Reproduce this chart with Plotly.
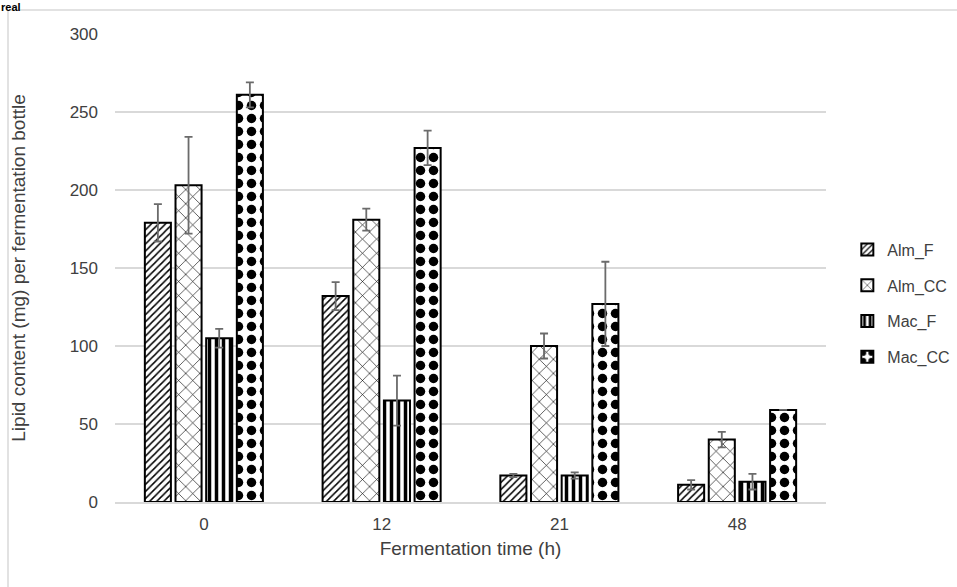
import plotly.graph_objects as go

# Lipid content per fermentation bottle (mg), mean and standard deviation
times = ["0", "12", "21", "48"]
series_names = ["Alm_F", "Alm_CC", "Mac_F", "Mac_CC"]
alm_f = [179, 132, 17, 11]
alm_f_err = [12, 9, 1, 3]
alm_cc = [203, 181, 100, 40]
alm_cc_err = [31, 7, 8, 5]
mac_f = [105, 65, 17, 13]
mac_f_err = [6, 16, 2, 5]
mac_cc = [261, 227, 127, 59]
mac_cc_err = [8, 11, 27, 0]

values = [alm_f, alm_cc, mac_f, mac_cc]
errors = [alm_f_err, alm_cc_err, mac_f_err, mac_cc_err]
patterns = [
    dict(shape="/", size=5, solidity=0.3),
    dict(shape="x", size=10, solidity=0.12),
    dict(shape="|", size=7, solidity=0.5),
    dict(shape=".", size=13, solidity=0.42),
]

FONT = "Liberation Sans, Arial, sans-serif"
TEXT = "#404040"

fig = go.Figure()
for name, vals, errs, pat in zip(series_names, values, errors, patterns):
    fig.add_trace(go.Bar(
        name=name,
        legendgroup=name,
        x=times,
        y=vals,
        marker=dict(color="white",
                    pattern=dict(fgcolor="black", bgcolor="white",
                                 fgopacity=1, fillmode="replace", **pat),
                    line=dict(color="black", width=2)),
        error_y=dict(type="data", array=errs, visible=True,
                     color="#6b6b6b", thickness=1.8, width=4),
    ))

fig.update_layout(
    width=957, height=587,
    margin=dict(l=115, r=131, t=34, b=85, autoexpand=False),
    paper_bgcolor="white", plot_bgcolor="white",
    barmode="group", bargap=0.31, bargroupgap=0.15,
    font=dict(family=FONT, size=17, color=TEXT),
    showlegend=True,
    legend=dict(x=1.03, y=0.424, xanchor="left", yanchor="middle",
                font=dict(family=FONT, size=16, color=TEXT),
                itemwidth=30, tracegroupgap=12, bgcolor="rgba(0,0,0,0)"),
    xaxis=dict(
        showgrid=False, showline=True, linecolor="#d9d9d9", linewidth=2,
        ticks="", ticklabelstandoff=6, tickfont=dict(size=17, color=TEXT),
        title=dict(text="Fermentation time (h)", standoff=8,
                   font=dict(size=19, color=TEXT)),
    ),
    yaxis=dict(
        range=[0, 300], dtick=50, showgrid=True, gridcolor="#d9d9d9",
        gridwidth=1.5, zeroline=False, showline=False, ticks="",
        ticklabelstandoff=16, tickfont=dict(size=17, color=TEXT),
        title=dict(text="Lipid content (mg) per fermentation bottle",
                   standoff=38, font=dict(size=19, color=TEXT)),
    ),
    shapes=[dict(type="rect", xref="paper", yref="paper",
                 x0=-0.1505, y0=-0.19, x1=1.19, y1=1.0513,
                 line=dict(color="#d9d9d9", width=1.5),
                 fillcolor="rgba(0,0,0,0)", layer="below")],
    annotations=[dict(text="<b>real</b>", xref="paper", yref="paper",
                      x=-0.162, y=1.0726, xanchor="left", yanchor="top",
                      showarrow=False, borderpad=0,
                      font=dict(size=11, color="black"))],
)

fig.write_html("out.html")
